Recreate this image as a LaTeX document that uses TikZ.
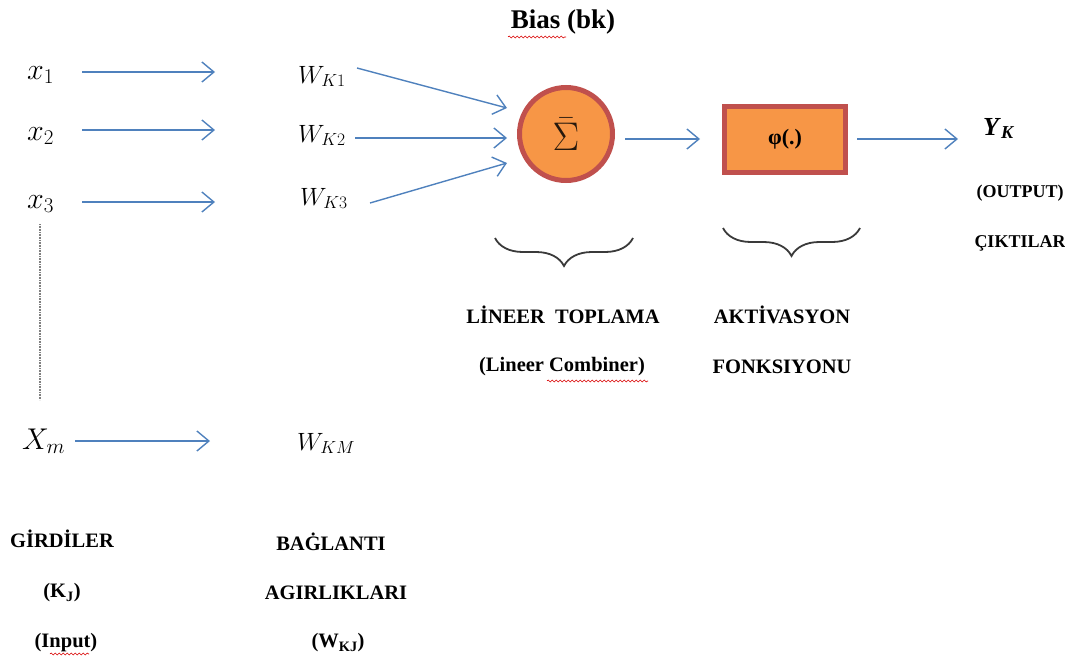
\RequirePackage{fix-cm}
\documentclass[tikz,border=0pt]{standalone}
\usepackage{amsmath}
\usepackage{fontspec}
\setmainfont{Liberation Serif}
\usetikzlibrary{arrows.meta,decorations.pathreplacing,decorations.pathmorphing}

\definecolor{arrowblue}{HTML}{4F81BD}
\definecolor{nodefill}{HTML}{F79646}
\definecolor{nodeedge}{HTML}{C0504D}
\definecolor{bracegray}{HTML}{3A3A3A}

\tikzset{
  arr/.style={draw=arrowblue, line width=1.4pt,
    -{Straight Barb[length=12pt,width=20pt,line width=1.4pt]}},
  sym/.style={inner sep=0pt, anchor=base west, font=\fontsize{25}{28}\selectfont},
  insym/.style={sym, font=\fontsize{30}{33}\selectfont},
  lbl/.style={inner sep=0pt, font=\fontsize{20.5}{22}\selectfont\bfseries},
  smalllbl/.style={inner sep=0pt, font=\fontsize{18}{20}\selectfont\bfseries},
  brc/.style={draw=bracegray, line width=1.8pt,
    decorate, decoration={brace, mirror, amplitude=#1}},
  spell/.style={draw=red!85!black, line width=0.6pt,
    decorate, decoration={snake, amplitude=1pt, segment length=4pt}}
}

\begin{document}
\begin{tikzpicture}[x=1pt, y=-1pt]
\useasboundingbox (0,0) rectangle (1065,664);

% input symbols
\node[insym] (x1) at (27,79)  {$x_1$};
\node[insym] (x2) at (27,140) {$x_2$};
\node[insym] (x3) at (27,208) {$x_3$};
\node[insym] (xm) at (22,449) {$X_m$};

% connection weights
\node[sym] (w1) at (298,83)  {$W_{K1}$};
\node[sym] (w2) at (298,142) {$W_{K2}$};
\node[sym] (w3) at (300,205) {$W_{K3}$};
\node[sym] (wm) at (297,450) {$W_{KM}$};

% input arrows
\coordinate (a1s) at (82,72);  \coordinate (a1e) at (215,72);
\coordinate (a2s) at (82,130); \coordinate (a2e) at (215,130);
\coordinate (a3s) at (82,202); \coordinate (a3e) at (215,202);
\coordinate (ams) at (75,441); \coordinate (ame) at (210,441);
\draw[arr] (a1s) -- (a1e);
\draw[arr] (a2s) -- (a2e);
\draw[arr] (a3s) -- (a3e);
\draw[arr] (ams) -- (ame);

% dots between x3 and Xm
\coordinate (dtop) at (40,224);
\coordinate (dbot) at (40,400);
\draw[gray, line width=1.3pt, dash pattern=on 0.8pt off 0.8pt] (dtop) -- (dbot);

% summing junction
\node[circle, draw=nodeedge, fill=nodefill, line width=5pt,
      minimum size=93pt, inner sep=0pt] (sum) at (566,134)
      {\fontsize{40}{44}\selectfont\color{black!80!brown}$\bar{\Sigma}$};

% weighted lines into the junction
\coordinate (w1o) at (357,68);  \coordinate (s1) at (507,108);
\coordinate (w2o) at (355,138); \coordinate (s2) at (507,138);
\coordinate (w3o) at (370,203); \coordinate (s3) at (507,163);
\draw[arr] (w1o) -- (s1);
\draw[arr] (w2o) -- (s2);
\draw[arr] (w3o) -- (s3);

% bias
\node[inner sep=0pt, font=\fontsize{27}{29}\selectfont\bfseries] (bias) at (563,22) {Bias (bk)};

% activation function
\node[rectangle, draw=nodeedge, fill=nodefill, line width=5pt,
      minimum width=121pt, minimum height=66pt, inner sep=0pt,
      font=\fontsize{22}{24}\selectfont\bfseries] (phi) at (785,139) {φ(.)};

\draw[arr, shorten <=10pt, shorten >=22pt] (sum.east |- phi.west) -- (phi.west);

% output
\node[sym, font=\fontsize{26}{28}\selectfont] (yk) at (983,135)
      {$\textbf{\textit{Y}}_{\textbf{\textit{K}}}$};
\coordinate (yarr) at (958,139);
\draw[arr, shorten <=9pt] (phi.east |- yarr) -- (yarr);

\node[smalllbl] (outlbl) at (1020,193) {(OUTPUT)};
\node[smalllbl] (cikti) at (1020,243) {ÇIKTILAR};

% braces under the junction and the activation
\coordinate (b1l) at (495,238); \coordinate (b1r) at (633,238);
\coordinate (b2l) at (723,228); \coordinate (b2r) at (860,228);
\draw[brc=28pt] (b1l) -- (b1r);
\draw[brc=28pt] (b2l) -- (b2r);

\node[lbl] (lin) at (563,315) {LİNEER\ \ TOPLAMA};
\node[lbl] (comb) at (562,367) {(Lineer Combiner)};
\node[lbl] (akt) at (782,315) {AKTİVASYON};
\node[lbl] (fonk) at (782,367) {FONKSIYONU};

% bottom labels
\node[lbl] (gir) at (62,539) {GİRDİLER};
\node[lbl] (kj) at (62,593) {(K\textsubscript{J})};
\node[lbl] (inp) at (66,643) {(Input)};
\node[lbl] (bag) at (331,542) {BAĠLANTI};
\node[lbl] (agi) at (336,593) {AGIRLIKLARI};
\node[lbl] (wkj) at (338,643) {(W\textsubscript{KJ})};

% spelling marks
\coordinate (u1l) at (508,37);  \coordinate (u1r) at (566,37);
\coordinate (u2l) at (547,381); \coordinate (u2r) at (648,381);
\coordinate (u3l) at (50,654);  \coordinate (u3r) at (89,654);
\draw[spell] (u1l) -- (u1r);
\draw[spell] (u2l) -- (u2r);
\draw[spell] (u3l) -- (u3r);
\end{tikzpicture}
\end{document}
